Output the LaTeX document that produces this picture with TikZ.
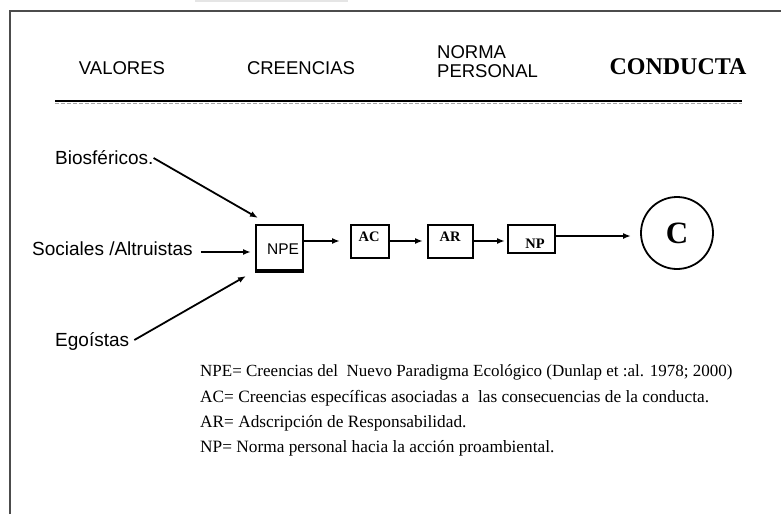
\documentclass[tikz,border=0pt]{standalone}
\usepackage{fontspec}
\setmainfont{Liberation Serif}
\setsansfont{Liberation Sans}
\usepackage{tikz}
\usetikzlibrary{calc, arrows.meta}
\usepackage{xcolor}

\begin{document}
\begin{tikzpicture}[x=1pt, y=-1pt,
    head/.style={font=\sffamily\fontsize{18.5}{20}\selectfont, inner sep=0pt},
    val/.style={font=\sffamily\fontsize{19}{21}\selectfont, inner sep=0pt},
    box/.style={draw, line width=1.8pt, inner sep=0pt},
    legend/.style={font=\fontsize{17.3}{18}\selectfont, anchor=west, inner sep=0pt},
    arr/.style={line width=1.8pt, -{Latex[length=8pt, width=6pt]}}]
  \useasboundingbox (0,0) rectangle (781,514);
  % Frame
  \fill[gray!20] (195,0) rectangle (348,2);
  \draw[line width=2pt, gray!60!black] (10,514) -- (10,11) -- (781,11);

  % Headings
  \node[head] (valores) at (122,68) {VALORES};
  \node[head] (creencias) at (301,68) {CREENCIAS};
  \node[head, anchor=west] (norma) at (437,52) {NORMA};
  \node[head, anchor=west] (personal) at (437,71) {PERSONAL};
  \node[font=\bfseries\fontsize{24}{26}\selectfont, inner sep=0pt] (conducta) at (678,67) {CONDUCTA};
  \draw[line width=1.6pt] (55,101) -- (742,101);
  \draw[gray!70, dash pattern=on 4pt off 2pt] (55,102.8) -- (742,102.8);

  % Nodes
  \node[val, anchor=west] (bio) at (55,158) {Biosféricos.};
  \node[val, anchor=west] (soc) at (32,249) {Sociales /Altruistas};
  \node[val, anchor=west] (ego) at (55,341) {Egoístas};

  \node[box, minimum width=47pt, minimum height=45pt] (npe) at (279.5,247.5) {};
  \node[font=\sffamily\fontsize{15.5}{16}\selectfont, inner sep=0pt] at (283,249) {NPE};
  \node[box, minimum width=38pt, minimum height=33pt] (ac) at (370,241.5) {};
  \node[font=\bfseries\fontsize{14.5}{15}\selectfont, inner sep=0pt] at (369,237) {AC};
  \node[box, minimum width=45pt, minimum height=33pt] (ar) at (450.5,241.5) {};
  \node[font=\bfseries\fontsize{14.5}{15}\selectfont, inner sep=0pt] at (450,237) {AR};
  \node[box, minimum width=47pt, minimum height=28pt] (np) at (531.5,239) {};
  \node[font=\bfseries\fontsize{14.5}{15}\selectfont, inner sep=0pt] at (535,244) {NP};
  \node[draw, line width=1.8pt, circle, minimum size=72pt, inner sep=0pt, font=\bfseries\fontsize{31}{32}\selectfont] (c) at (677,233) {C};
  \draw[line width=1.2pt] ($(npe.south west)+(0,1)$) -- ($(npe.south east)+(0,1)$);

  \coordinate (bioend) at (258,218);
  \coordinate (socend) at (251,252);
  \coordinate (egoend) at (246,276);

  % Edges
  \draw[arr] (bio.east) -- (bioend);
  \draw[arr] ($(soc.east)+(8,3)$) -- (socend);
  \draw[arr] ($(ego.east)+(5,-1)$) -- (egoend);
  \draw[arr] (npe.east |- 0,241) -- (340,241);
  \draw[arr] (ac.east |- 0,241) -- (423,241);
  \draw[arr] (ar.east |- 0,241) -- (505,241);
  \draw[arr] (np.east |- 0,236) -- (631,236);

  % Legend
  \node[legend, font=\fontsize{17}{18}\selectfont] (l1) at (200,372) {NPE= Creencias del\ \ Nuevo Paradigma Ecológico (Dunlap et :al. 1978; 2000)};
  \node[legend] (l2) at (200,398) {AC= Creencias específicas asociadas a\ \ las consecuencias de la conducta.};
  \node[legend] (l3) at (200,423) {AR= Adscripción de Responsabilidad.};
  \node[legend] (l4) at (200,448) {NP= Norma personal hacia la acción proambiental.};
\end{tikzpicture}
\end{document}
